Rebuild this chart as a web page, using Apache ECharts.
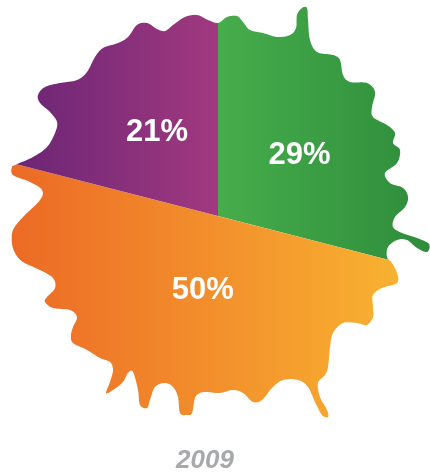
<!DOCTYPE html>
<html>
<head>
<meta charset="utf-8">
<script src="https://cdn.jsdelivr.net/npm/echarts@6/dist/echarts.min.js"></script>
<style>
  html, body { margin: 0; padding: 0; background: #ffffff; }
  #chart { width: 430px; height: 474px; }
</style>
</head>
<body>
<div id="chart"></div>
<script>
// Share of each segment, drawn clockwise from twelve o'clock
const categories = ['A', 'B', 'C'];
const shares = [29, 50, 21];
const yearLabel = '2009';

// Left-to-right gradient stops for each slice
const sliceColors = [
  ['#46ad4b', '#2e8c3b'],
  ['#ec6a26', '#f8b231'],
  ['#6b2575', '#a1397f']
];

// Distance of each percentage label from the centre, along the slice's mid angle (px at base size)
const labelRadius = [98, 77, 106];

// Paint-splash rim, as offsets from the pie centre (px at the base size)
const splashOutline = [
  [0,-193],[9,-199],[19,-200],[25,-194],[32,-186],[45,-183],[59,-179],[72,-181],[78,-188],[79,-201],
  [84,-208],[89,-208],[90,-196],[92,-176],[99,-164],[115,-161],[122,-156],[125,-141],[132,-134],[149,-133],
  [157,-124],[154,-109],[155,-99],[169,-91],[177,-83],[175,-73],[182,-66],[179,-53],[167,-43],[172,-33],
  [185,-28],[190,-19],[187,-9],[177,1],[175,11],[184,17],[199,22],[211,28],[209,36],[199,32],
  [189,24],[179,24],[170,31],[169,41],[174,47],[179,57],[179,67],[164,72],[155,79],[155,91],
  [155,101],[149,109],[139,107],[125,107],[115,117],[112,131],[110,151],[107,159],[100,167],[102,181],
  [109,194],[110,201],[104,199],[97,186],[90,171],[80,164],[65,164],[54,172],[44,184],[35,186],
  [25,177],[15,174],[2,177],[-11,176],[-18,177],[-23,182],[-26,197],[-31,199],[-38,197],[-40,181],
  [-45,171],[-53,167],[-63,171],[-68,184],[-71,192],[-78,189],[-80,174],[-85,156],[-90,157],[-95,166],
  [-105,174],[-112,177],[-108,166],[-105,154],[-108,146],[-118,142],[-131,134],[-145,127],[-147,119],[-145,111],
  [-141,101],[-148,94],[-165,92],[-173,86],[-171,81],[-163,72],[-165,62],[-178,54],[-195,46],[-203,37],
  [-206,27],[-205,14],[-195,1],[-178,-16],[-176,-26],[-188,-34],[-205,-41],[-206,-49],[-203,-51],[-185,-59],
  [-171,-69],[-163,-83],[-161,-94],[-168,-104],[-178,-113],[-180,-121],[-173,-129],[-158,-133],[-141,-136],[-131,-144],
  [-123,-159],[-115,-168],[-100,-173],[-90,-179],[-81,-191],[-71,-193],[-61,-187],[-53,-185],[-45,-191],[-33,-199],
  [-21,-201],[-10,-196]
];

const BASE_W = 430, BASE_H = 474;
const CENTER = [218 / BASE_W, 216 / BASE_H];
const LABEL_NUDGE_X = 4;

// Closed Catmull-Rom spline through the rim points
function smoothRing(pts, steps) {
  const n = pts.length, out = [];
  for (let i = 0; i < n; i++) {
    const p0 = pts[(i - 1 + n) % n], p1 = pts[i], p2 = pts[(i + 1) % n], p3 = pts[(i + 2) % n];
    for (let s = 0; s < steps; s++) {
      const t = s / steps, t2 = t * t, t3 = t2 * t;
      const f = k => 0.5 * (2 * p1[k] + (-p0[k] + p2[k]) * t +
        (2 * p0[k] - 5 * p1[k] + 4 * p2[k] - p3[k]) * t2 +
        (-p0[k] + 3 * p1[k] - 3 * p2[k] + p3[k]) * t3);
      out.push([f(0), f(1)]);
    }
  }
  return out;
}

// Keep the part of a polygon where nx*x + ny*y >= 0
function clipHalfPlane(poly, nx, ny) {
  const out = [];
  const n = poly.length;
  for (let i = 0; i < n; i++) {
    const cur = poly[i], prev = poly[(i - 1 + n) % n];
    const fc = nx * cur[0] + ny * cur[1];
    const fp = nx * prev[0] + ny * prev[1];
    const cross = () => {
      const t = fp / (fp - fc);
      return [prev[0] + t * (cur[0] - prev[0]), prev[1] + t * (cur[1] - prev[1])];
    };
    if (fc >= 0) {
      if (fp < 0) out.push(cross());
      out.push(cur);
    } else if (fp >= 0) {
      out.push(cross());
    }
  }
  return out;
}

// Angles run clockwise from twelve o'clock, in screen space (y down)
function clipWedge(poly, a0, a1) {
  if (a1 - a0 > Math.PI + 1e-9) {
    const mid = (a0 + a1) / 2;
    return clipWedge(poly, a0, mid).concat(clipWedge(poly, mid, a1));
  }
  let p = clipHalfPlane(poly, Math.cos(a0), Math.sin(a0));
  p = clipHalfPlane(p, -Math.cos(a1), -Math.sin(a1));
  return [p];
}

const rim = smoothRing(splashOutline, 10);
const total = shares.reduce((a, b) => a + b, 0);
const sliceAngles = [];
shares.reduce((acc, v) => {
  sliceAngles.push([acc / total * Math.PI * 2, (acc + v) / total * Math.PI * 2]);
  return acc + v;
}, 0);

function renderSlice(params, api) {
  const i = params.dataIndex;
  const w = api.getWidth(), h = api.getHeight();
  const scale = Math.min(w / BASE_W, h / BASE_H);
  const cx = w * CENTER[0], cy = h * CENTER[1];
  const ring = rim.map(p => [p[0] * scale, p[1] * scale]);
  const [a0, a1] = sliceAngles[i];
  const pieces = clipWedge(ring, a0, a1);
  const mid = (a0 + a1) / 2;
  const lr = labelRadius[i] * scale;
  const gradient = new echarts.graphic.LinearGradient(0, 0, 1, 0, [
    { offset: 0, color: sliceColors[i][0] },
    { offset: 1, color: sliceColors[i][1] }
  ]);
  const children = pieces.map(poly => ({
    type: 'polygon',
    shape: { points: poly.map(p => [cx + p[0], cy + p[1]]) },
    style: { fill: gradient }
  }));
  children.push({
    type: 'text',
    z2: 10,
    style: {
      text: api.value(0) + '%',
      x: cx + Math.sin(mid) * lr + LABEL_NUDGE_X * scale,
      y: cy - Math.cos(mid) * lr,
      align: 'center',
      verticalAlign: 'middle',
      fill: '#ffffff',
      fontFamily: '"Liberation Sans", Arial, sans-serif',
      fontWeight: 'bold',
      fontSize: 31 * scale
    }
  });
  return { type: 'group', children: children };
}

const chart = echarts.init(document.getElementById('chart'));
chart.setOption({
  animation: false,
  backgroundColor: '#ffffff',
  graphic: [{
    type: 'text',
    x: 205,
    y: 461,
    style: {
      text: yearLabel,
      align: 'center',
      verticalAlign: 'middle',
      fill: '#a7a9ac',
      fontFamily: '"Liberation Sans", Arial, sans-serif',
      fontWeight: 'bold',
      fontStyle: 'italic',
      fontSize: 26
    }
  }],
  series: [{
    type: 'custom',
    coordinateSystem: 'none',
    renderItem: renderSlice,
    data: shares.map((v, i) => ({ name: categories[i], value: [v] }))
  }]
});
</script>
</body>
</html>
